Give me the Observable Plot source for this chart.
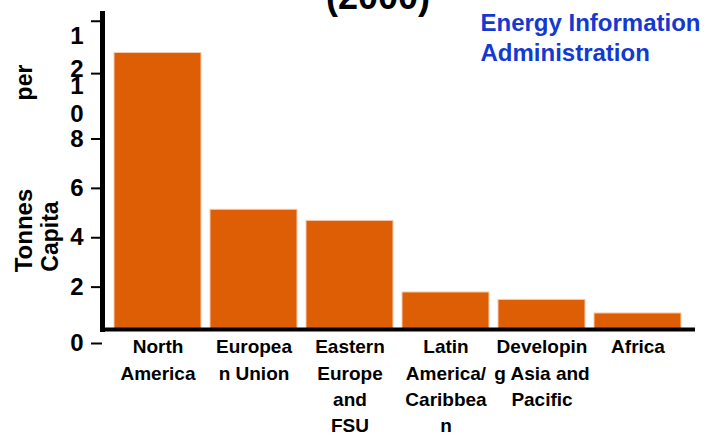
<!DOCTYPE html>
<html>
<head>
<meta charset="utf-8">
<script src="https://cdn.jsdelivr.net/npm/d3@7"></script>
<script src="https://cdn.jsdelivr.net/npm/@observablehq/plot@0.6"></script>
<style>
  html, body { margin: 0; padding: 0; background: #fff; }
  #chart svg { display: block; overflow: visible; }
</style>
</head>
<body>
<div id="chart"></div>
<script>
const regions = ["North America", "European Union", "Eastern Europe and FSU", "Latin America/Caribbean", "Developing Asia and Pacific", "Africa"];
const regionLabels = ["North\nAmerica", "Europea\nn Union", "Eastern\nEurope\nand\nFSU", "Latin\nAmerica/\nCaribbea\nn", "Developin\ng Asia and\nPacific", "Africa"];
const tonnesPerCapita = [11.2, 4.85, 4.4, 1.5, 1.2, 0.65];
const yTickZero = [0];
const yTicksLow = [2, 4, 6, 8];
const yTickTen = [10];
const yTickTwelve = [12];
const yTickLabels = {0: "0", 2: "2", 4: "4", 6: "6", 8: "8", 10: "1\n0", 12: "1\n2"};
const titleText = "(2000)";
const sourceText = "Energy Information\nAdministration";
const yTitleWords = ["Tonnes", "per", "Capita"];

const data = regions.map((r, i) => ({region: r, label: regionLabels[i], value: tonnesPerCapita[i]}));
const labelOf = Object.fromEntries(regions.map((r, i) => [r, regionLabels[i]]));

const sans = "'Liberation Sans', Arial, Helvetica, sans-serif";
const tickStyle = {tickSize: 11, tickPadding: 8, strokeWidth: 2, fontSize: 24, fontWeight: "bold", fontFamily: sans, fill: "#000", tickFormat: d => yTickLabels[d]};

const chart = Plot.plot({
  width: 709,
  height: 437,
  marginLeft: 102,
  marginRight: 16,
  marginTop: 13,
  marginBottom: 108,
  style: {background: "#fff", fontFamily: sans, fontWeight: "bold", color: "#000"},
  x: {domain: regions, paddingInner: 0.09, paddingOuter: 0.093, label: null},
  y: {domain: [0, 12.8], label: null},
  marks: [
    Plot.barY(data, {x: "region", y: "value", fill: "#DE5E06", stroke: "#F6CDAE", strokeWidth: 1}),
    Plot.axisY(yTickZero, {...tickStyle, lineAnchor: "middle", dy: 14}),
    Plot.axisY(yTicksLow, {...tickStyle, lineAnchor: "middle", dy: 7}),
    Plot.axisY(yTickTen, {...tickStyle, lineAnchor: "top", lineHeight: 1.17, dy: -9}),
    Plot.axisY(yTickTwelve, {...tickStyle, lineAnchor: "top", lineHeight: 1.35, dy: -12}),
    Plot.axisX({
      tickSize: 0, tickPadding: 5,
      tickFormat: d => labelOf[d], fontSize: 19, fontWeight: "bold",
      fontFamily: sans, lineHeight: 1.39, fill: "#000"
    }),
    Plot.frame({anchor: "left", stroke: "#000", strokeWidth: 5}),
    Plot.ruleY([0], {stroke: "#000", strokeWidth: 4, insetRight: -2}),
    Plot.text([titleText], {
      text: d => d, frameAnchor: "top", textAnchor: "middle", lineAnchor: "bottom",
      dx: -20, dy: -5, fontSize: 36, fontWeight: "bold", fontFamily: sans, fill: "#000"
    }),
    Plot.text([sourceText], {
      text: d => d, frameAnchor: "top-right", textAnchor: "start", lineAnchor: "bottom",
      dx: -213, dy: 47, lineHeight: 1.25, fontSize: 24, fontWeight: "bold", fontFamily: sans, fill: "#1438D2"
    }),
    Plot.text([yTitleWords[0]], {
      text: d => d, frameAnchor: "left", rotate: -90, textAnchor: "middle", lineAnchor: "middle",
      dx: -78, dy: 59, fontSize: 24, fontWeight: "bold", fontFamily: sans, fill: "#000"
    }),
    Plot.text([yTitleWords[1]], {
      text: d => d, frameAnchor: "left", rotate: -90, textAnchor: "middle", lineAnchor: "middle",
      dx: -78, dy: -89, fontSize: 23, fontWeight: "bold", fontFamily: sans, fill: "#000"
    }),
    Plot.text([yTitleWords[2]], {
      text: d => d, frameAnchor: "left", rotate: -90, textAnchor: "middle", lineAnchor: "middle",
      dx: -52, dy: 65, fontSize: 23, fontWeight: "bold", fontFamily: sans, fill: "#000"
    })
  ]
});

document.getElementById("chart").appendChild(chart);
</script>
</body>
</html>
